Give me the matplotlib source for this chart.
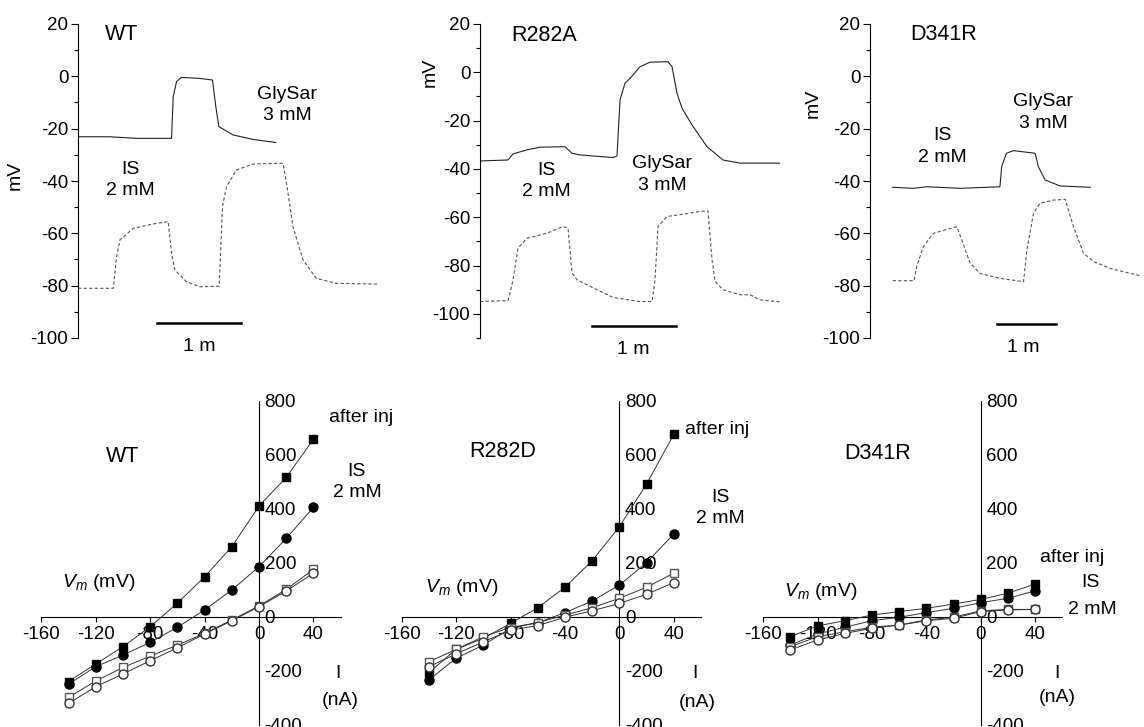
import matplotlib
matplotlib.use('Agg')
import matplotlib.pyplot as plt

plt.rcParams['font.family'] = ['Liberation Sans', 'DejaVu Sans']
plt.rcParams['mathtext.fontset'] = 'custom'
plt.rcParams['mathtext.it'] = 'Liberation Sans:italic'
plt.rcParams['mathtext.rm'] = 'Liberation Sans'
plt.rcParams['axes.unicode_minus'] = False

# membrane potential traces (time in min, potential in mV)
wt_t_solid = [0, 0.381, 0.698, 1.115, 1.135, 1.175, 1.234, 1.452, 1.603, 1.643, 1.679, 1.849, 2.087, 2.357]
wt_v_solid = [-23.1, -23.1, -23.7, -23.7, -7.8, -2.0, -0.4, -0.8, -1.4, -11.6, -19.2, -22.4, -24.1, -25.3]
wt_t_dash = [0, 0.421, 0.46, 0.5, 0.659, 0.897, 1.075, 1.115, 1.155, 1.294, 1.452, 1.683, 1.722, 1.77,
             1.889, 2.087, 2.444, 2.492, 2.563, 2.683, 2.841, 3.079, 3.575]
wt_v_dash = [-81, -81, -68.9, -62.5, -58.1, -56.4, -55.5, -67.6, -74, -78.5, -80.4, -80.2, -49.8, -42.2,
             -35.8, -33.5, -33.2, -42.2, -57.5, -70.2, -77.2, -79.1, -79.4]

ra_t_solid = [0, 0.333, 0.393, 0.56, 0.714, 1.012, 1.095, 1.19, 1.583, 1.631, 1.667, 1.726, 1.786, 1.905,
              2.024, 2.238, 2.286, 2.345, 2.405, 2.524, 2.702, 2.893, 3.095, 3.571]
ra_v_solid = [-36.7, -36.3, -33.8, -32.1, -31, -30.8, -33.5, -34.2, -35.3, -34.6, -11.4, -4.5, -2.5, 2.3,
              4.2, 4.4, 2.3, -8.7, -14.9, -21.8, -30.8, -36.3, -37.6, -37.6]
ra_t_dash = [0, 0.333, 0.357, 0.393, 0.452, 0.56, 0.798, 0.988, 1.048, 1.095, 1.155, 1.393, 1.583, 1.905,
             2.048, 2.083, 2.119, 2.226, 2.5, 2.619, 2.714, 2.762, 2.798, 2.893, 3.095, 3.214, 3.333, 3.571]
ra_v_dash = [-94.9, -94.5, -91.4, -85.9, -72.8, -68.7, -66.6, -63.9, -64.5, -83.1, -85.9, -90, -93.2, -94.9,
             -94.9, -85.9, -63.9, -59.7, -58.3, -57.6, -57.4, -77.6, -86.6, -90, -92.1, -92.1, -94.2, -95]

dr_t_solid = [0.384, 0.735, 0.96, 1.525, 2.2, 2.23, 2.31, 2.43, 2.797, 2.85, 2.966, 3.22, 3.73]
dr_v_solid = [-42.4, -42.8, -42.2, -42.8, -42.2, -34.5, -29.4, -28.4, -29.4, -34.5, -39.6, -41.9, -42.4]
dr_t_dash = [0.384, 0.746, 0.79, 0.904, 1.073, 1.3, 1.469, 1.554, 1.695, 1.864, 2.2, 2.6, 2.657, 2.768,
             2.88, 3.107, 3.305, 3.446, 3.616, 3.785, 4.068, 4.35, 4.6]
dr_v_dash = [-78.1, -78.1, -72.7, -65.1, -60, -58.5, -57.5, -62.5, -71.4, -75.3, -77.2, -78.5, -66.4, -52.3,
             -48.5, -47.3, -47, -57.5, -67.6, -70.8, -73.4, -75, -76.3]

# I-V relations (Vm in mV, I in nA)
vm = [-140, -120, -100, -80, -60, -40, -20, 0, 20, 40]
wt_inj = [-240, -175, -111, -37, 50, 148, 259, 410, 516, 657]
wt_is = [-250, -185, -142, -95, -39, 25, 99, 185, 290, 405]
wt_open_sq = [-299, -238, -188, -146, -105, -62, -12, 40, 101, 175]
wt_open_ci = [-321, -259, -212, -163, -115, -64, -15, 37, 95, 161]

rd_inj = [-207, -121, -80, -25, 33, 109, 207, 333, 491, 675]
rd_is = [-234, -154, -105, -43, -22, 15, 58, 117, 200, 306]
rd_open_sq = [-167, -121, -74, -40, -22, 6, 33, 68, 109, 161]
rd_open_ci = [-185, -138, -93, -50, -33, -2, 22, 49, 83, 126]

dr_inj = [-74, -34, -15, 6, 19, 31, 47, 64, 87, 121]
dr_is = [-105, -64, -39, -15, -2, 15, 31, 52, 68, 96]
dr_open_sq = [-111, -74, -56, -39, -31, -12, -2, 22, 27, 27]
dr_open_ci = [-123, -86, -62, -43, -31, -15, -6, 19, 25, 27]

W, H = 1144, 727
TICK_FS = 13.5
TEXT_FS = 14
TITLE_FS = 15.5
fig = plt.figure(figsize=(W / 100, H / 100), dpi=100)


def px_axes(x0, x1, ytop, ybot):
    return fig.add_axes([x0 / W, 1 - ybot / H, (x1 - x0) / W, (ybot - ytop) / H])


def trace_panel(ax, ts, vs, td, vd, xmax, ymin):
    ax.plot(ts, vs, color='#222222', lw=0.8)
    ax.plot(td, vd, color='#555555', lw=0.8, dashes=(3, 2))
    ax.set_xlim(0, xmax)
    ax.set_ylim(ymin, 20)
    for s in ['top', 'right', 'bottom']:
        ax.spines[s].set_visible(False)
    ax.spines['left'].set_linewidth(0.8)
    ax.set_xticks([])
    ax.set_yticks(range(-100, 21, 20))
    ax.set_yticks(range(ymin, 21, 10), minor=True)
    ax.tick_params(axis='y', which='major', length=5, width=0.8, labelsize=TICK_FS, pad=2)
    ax.tick_params(axis='y', which='minor', length=3, width=0.8)
    ax.patch.set_visible(False)


ann = dict(fontsize=TEXT_FS, ha='center', va='center', linespacing=1.35)

ax1 = px_axes(78, 380, 24, 338)
trace_panel(ax1, wt_t_solid, wt_v_solid, wt_t_dash, wt_v_dash, 3.6, -100)
ax1.text(0.52, 15.8, 'WT', fontsize=TITLE_FS, ha='center', va='center')
ax1.text(2.49, -11, 'GlySar\n3 mM', **ann)
ax1.text(0.62, -39.6, 'IS\n2 mM', **ann)
ax1.plot([0.94, 1.94], [-94.3, -94.3], color='black', lw=1.8)
ax1.text(1.45, -103.4, '1 m', fontsize=TEXT_FS, ha='center', va='center', clip_on=False)
fig.text(15 / W, 1 - 175 / H, 'mV', rotation=90, fontsize=TEXT_FS, ha='center', va='center')

ax2 = px_axes(480, 780, 24, 338)
trace_panel(ax2, ra_t_solid, ra_v_solid, ra_t_dash, ra_v_dash, 3.571, -110)
ax2.text(0.76, 15.4, 'R282A', fontsize=TITLE_FS, ha='center', va='center')
ax2.text(0.79, -45, 'IS\n2 mM', **ann)
ax2.text(2.17, -42.3, 'GlySar\n3 mM', **ann)
ax2.plot([1.333, 2.333], [-105, -105], color='black', lw=1.8)
ax2.text(1.82, -114.9, '1 m', fontsize=TEXT_FS, ha='center', va='center', clip_on=False)
fig.text(430 / W, 1 - 72 / H, 'mV', rotation=90, fontsize=TEXT_FS, ha='center', va='center')

ax3 = px_axes(870, 1144, 24, 338)
trace_panel(ax3, dr_t_solid, dr_v_solid, dr_t_dash, dr_v_dash, 4.64, -100)
ax3.text(1.24, 15.8, 'D341R', fontsize=TITLE_FS, ha='center', va='center')
ax3.text(1.22, -26.8, 'IS\n2 mM', **ann)
ax3.text(2.93, -13.8, 'GlySar\n3 mM', **ann)
ax3.plot([2.15, 3.15], [-94.6, -94.6], color='black', lw=1.8)
ax3.text(2.6, -103.8, '1 m', fontsize=TEXT_FS, ha='center', va='center', clip_on=False)
fig.text(813 / W, 1 - 103 / H, 'mV', rotation=90, fontsize=TEXT_FS, ha='center', va='center')


def iv_panel(ax, inj, isv, osq, oci):
    ax.plot(vm, inj, color='#333333', lw=0.7, marker='s', ms=6, mfc='black', mec='black', zorder=3)
    ax.plot(vm, isv, color='#333333', lw=0.7, marker='o', ms=6.5, mfc='black', mec='black', zorder=3)
    ax.plot(vm, osq, color='#333333', lw=0.7, marker='s', ms=6, mfc='white', mec='#555555', zorder=3)
    ax.plot(vm, oci, color='#333333', lw=0.7, marker='o', ms=6.5, mfc='white', mec='#333333', zorder=3)
    ax.set_xlim(-160, 60)
    ax.set_ylim(-400, 800)
    ax.spines['top'].set_visible(False)
    ax.spines['left'].set_visible(False)
    ax.spines['right'].set_position(('data', 0))
    ax.spines['bottom'].set_position(('data', 0))
    ax.spines['right'].set_linewidth(0.8)
    ax.spines['bottom'].set_linewidth(0.8)
    ax.yaxis.set_ticks_position('right')
    ax.set_xticks([-160, -120, -80, -40, 0, 40])
    ax.set_yticks([-400, -200, 0, 200, 400, 600, 800])
    ax.tick_params(axis='x', length=3.5, width=0.8, labelsize=TICK_FS, pad=3)
    ax.tick_params(axis='y', length=0, labelsize=TICK_FS, pad=4)
    ax.patch.set_visible(False)
    for lab in ax.get_xticklabels() + ax.get_yticklabels():
        lab.set_clip_on(False)


def side_labels(ax, title_xy, title, vm_xy, inj_xy, is_xy, i_xy, na_xy, is_split=None):
    ax.text(*title_xy, title, fontsize=TITLE_FS, ha='center', va='center')
    ax.text(*vm_xy, r'$V_m$ (mV)', fontsize=TEXT_FS, ha='center', va='center')
    ax.text(*inj_xy, 'after inj', fontsize=TEXT_FS, ha='center', va='center', clip_on=False)
    if is_split is None:
        ax.text(*is_xy, 'IS\n2 mM', clip_on=False, **ann)
    else:
        ax.text(*is_xy, 'IS', fontsize=TEXT_FS, ha='center', va='center', clip_on=False)
        ax.text(*is_split, '2 mM', fontsize=TEXT_FS, ha='center', va='center', clip_on=False)
    ax.text(*i_xy, 'I', fontsize=TEXT_FS, ha='center', va='center', clip_on=False)
    ax.text(*na_xy, '(nA)', fontsize=TEXT_FS, ha='center', va='center', clip_on=False)


ax4 = px_axes(41.4, 340.6, 400.7, 724.7)
iv_panel(ax4, wt_inj, wt_is, wt_open_sq, wt_open_ci)
side_labels(ax4, (-100, 595), 'WT', (-118, 128), (75, 736), (72, 499), (58, -209), (59.6, -309))

ax5 = px_axes(401.7, 700.9, 400.7, 724.7)
iv_panel(ax5, rd_inj, rd_is, rd_open_sq, rd_open_ci)
side_labels(ax5, (-86, 610), 'R282D', (-116, 110), (72, 695), (74, 402), (55.6, -209), (57, -316))

ax6 = px_axes(763.1, 1062.3, 400.7, 724.7)
iv_panel(ax6, dr_inj, dr_is, dr_open_sq, dr_open_ci)
side_labels(ax6, (-76, 606), 'D341R', (-118, 92), (67, 221), (80.4, 128), (56, -209), (56, -298),
            is_split=(82, 25))

fig.savefig('out.png', dpi=100)
